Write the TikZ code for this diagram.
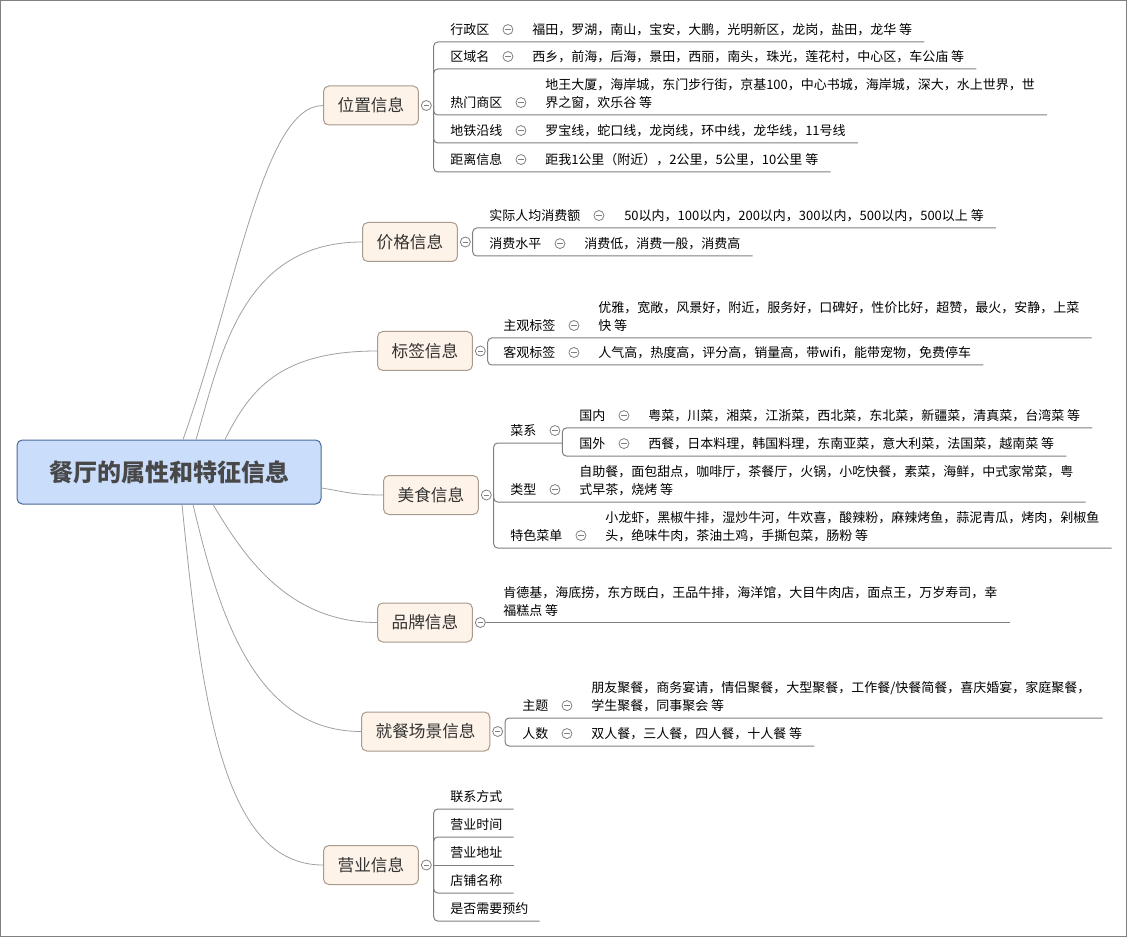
\documentclass[tikz,border=0pt]{standalone}
\usepackage{fontspec}
\setmainfont{Noto Sans CJK SC}
\usetikzlibrary{positioning,calc}

\definecolor{rootfill}{RGB}{202,221,251}
\definecolor{rootline}{RGB}{75,106,155}
\definecolor{roottext}{RGB}{72,72,72}
\definecolor{topicfill}{RGB}{254,243,232}
\definecolor{topicline}{RGB}{168,154,140}
\definecolor{linegray}{RGB}{128,128,128}
\definecolor{curvegray}{RGB}{160,160,160}

\tikzset{
  root/.style={draw=rootline, fill=rootfill, rounded corners=4pt, line width=0.75pt,
    minimum width=228pt, minimum height=48pt, text=roottext,
    font=\fontsize{18}{22}\selectfont\bfseries},
  topic/.style={draw=topicline, fill=topicfill, rounded corners=4pt, line width=0.75pt,
    minimum height=29.25pt, inner xsep=10.6pt, anchor=west, text=black!80,
    font=\fontsize{12.5}{15}\selectfont},
  fold/.style={circle, draw=linegray, fill=white, minimum size=7.5pt, inner sep=0pt,
    line width=0.6pt,
    path picture={\draw[linegray, line width=0.6pt]
      ([xshift=-2pt]path picture bounding box.center) -- ([xshift=2pt]path picture bounding box.center);}},
  lab/.style={inner sep=0pt, anchor=base west, font=\fontsize{9.75}{13.5}\selectfont},
  leaf/.style={lab, align=left},
  link/.style={draw=linegray, line width=0.75pt, rounded corners=3pt},
  branch/.style={draw=curvegray, line width=0.6pt}
}

\begin{document}
\begin{tikzpicture}[x=0.75pt, y=-0.75pt]
  \def\drop{7.5}  % underline below the baseline
  \def\tail{12}   % underline past the text
  \useasboundingbox (0,0) rectangle (1127,937);
  \draw[linegray, line width=0.75pt] (0.5,0.5) rectangle (1126,936);

  % centre and main topics
  \node[root] (root) at (169,472) {餐厅的属性和特征信息};
  \node[topic] (wz) at (323,105.5) {位置信息};
  \node[topic] (jg) at (362,242) {价格信息};
  \node[topic] (bq) at (377,351) {标签信息};
  \node[topic] (ms) at (383,495) {美食信息};
  \node[topic] (pp) at (377,622.5) {品牌信息};
  \node[topic] (jc) at (361,731.5) {就餐场景信息};
  \node[topic] (yy) at (323,865) {营业信息};
  \foreach \tp in {wz,jg,bq,ms,pp,jc,yy}
    \node[fold, right=1.5pt of \tp] (\tp-c) {};

  \draw[branch] ([xshift=10.5pt]root.north) .. controls +(54,-150) and +(-60,0) .. (wz.west);
  \draw[branch] ([xshift=20.25pt]root.north) .. controls +(24,-80) and +(-122,0) .. (jg.west);
  \draw[branch] ([xshift=42pt]root.north) .. controls +(25,-50) and +(-97,0) .. (bq.west);
  \draw[branch] ([yshift=-12pt]root.east) .. controls +(25,4) and +(-30,0) .. (ms.west);
  \draw[branch] ([xshift=33pt]root.south) .. controls +(30,50) and +(-90,0) .. (pp.west);
  \draw[branch] ([xshift=18pt]root.south) .. controls +(24,100) and +(-110,0) .. (jc.west);
  \draw[branch] ([xshift=9.75pt]root.south) .. controls +(20,200) and +(-100,0) .. (yy.west);

  % 位置信息 (a wrapped leaf sits on the base of its last line)
  \node[lab] (xzq) at (450,34.5) {行政区};
  \node[leaf] (xzq-v) at (532,34.5) {福田，罗湖，南山，宝安，大鹏，光明新区，龙岗，盐田，龙华 等};
  \node[lab] (qym) at (450,61.5) {区域名};
  \node[leaf] (qym-v) at (532,61.5) {西乡，前海，后海，景田，西丽，南头，珠光，莲花村，中心区，车公庙 等};
  \node[lab] (rmsq) at (450,107.5) {热门商区};
  \node[leaf] (rmsq-v) at (545,107.5) {地王大厦，海岸城，东门步行街，京基100，中心书城，海岸城，深大，水上世界，世\\界之窗，欢乐谷 等};
  \node[lab] (dtyx) at (450,135.5) {地铁沿线};
  \node[leaf] (dtyx-v) at (545,135.5) {罗宝线，蛇口线，龙岗线，环中线，龙华线，11号线};
  \node[lab] (jlxx) at (450,164.5) {距离信息};
  \node[leaf] (jlxx-v) at (545,164.5) {距我1公里（附近），2公里，5公里，10公里 等};
  \foreach \row in {xzq,qym,rmsq,dtyx,jlxx}{
    \node[fold, right=9.75pt of \row] (\row-c) {};
    \draw[link] ([xshift=1.5pt]wz-c.east) |- ($(\row-v.east |- \row.base)+(\tail,\drop)$);
  }

  % 价格信息
  \node[lab] (sjrj) at (489,220.5) {实际人均消费额};
  \node[leaf] (sjrj-v) at (624,220.5) {50以内，100以内，200以内，300以内，500以内，500以上 等};
  \node[lab] (xfsp) at (489,248.5) {消费水平};
  \node[leaf] (xfsp-v) at (584,248.5) {消费低，消费一般，消费高};
  \foreach \row in {sjrj,xfsp}{
    \node[fold, right=9.75pt of \row] (\row-c) {};
    \draw[link] ([xshift=1.5pt]jg-c.east) |- ($(\row-v.east |- \row.base)+(\tail,\drop)$);
  }

  % 标签信息
  \node[lab] (zgbq) at (503,330.5) {主观标签};
  \node[leaf] (zgbq-v) at (598,330.5) {优雅，宽敞，风景好，附近，服务好，口碑好，性价比好，超赞，最火，安静，上菜\\快 等};
  \node[lab] (kgbq) at (503,357.5) {客观标签};
  \node[leaf] (kgbq-v) at (598,357.5) {人气高，热度高，评分高，销量高，带wifi，能带宠物，免费停车};
  \foreach \row in {zgbq,kgbq}{
    \node[fold, right=9.75pt of \row] (\row-c) {};
    \draw[link] ([xshift=1.5pt]bq-c.east) |- ($(\row-v.east |- \row.base)+(\tail,\drop)$);
  }

  % 美食信息
  \node[lab] (cx) at (510,435.5) {菜系};
  \node[lab] (lx) at (510,494.5) {类型};
  \node[leaf] (lx-v) at (579,494.5) {自助餐，面包甜点，咖啡厅，茶餐厅，火锅，小吃快餐，素菜，海鲜，中式家常菜，粤\\式早茶，烧烤 等};
  \node[lab] (tscd) at (510,540.5) {特色菜单};
  \node[leaf] (tscd-v) at (605,540.5) {小龙虾，黑椒牛排，湿炒牛河，牛欢喜，酸辣粉，麻辣烤鱼，蒜泥青瓜，烤肉，剁椒鱼\\头，绝味牛肉，茶油土鸡，手撕包菜，肠粉 等};
  \foreach \row in {cx,lx,tscd}
    \node[fold, right=9.75pt of \row] (\row-c) {};
  \coordinate (cx-j) at ($(cx-c.east |- cx.base)+(2,\drop)$);
  \draw[link] ([xshift=1.5pt]ms-c.east) |- (cx-j);
  \foreach \row in {lx,tscd}
    \draw[link] ([xshift=1.5pt]ms-c.east) |- ($(\row-v.east |- \row.base)+(\tail,\drop)$);
  \node[lab] (gn) at (579,420.5) {国内};
  \node[leaf] (gn-v) at (648,420.5) {粤菜，川菜，湘菜，江浙菜，西北菜，东北菜，新疆菜，清真菜，台湾菜 等};
  \node[lab] (gw) at (579,448.5) {国外};
  \node[leaf] (gw-v) at (648,448.5) {西餐，日本料理，韩国料理，东南亚菜，意大利菜，法国菜，越南菜 等};
  \foreach \row in {gn,gw}{
    \node[fold, right=9.75pt of \row] (\row-c) {};
    \draw[link] (cx-j) |- ($(\row-v.east |- \row.base)+(\tail,\drop)$);
  }

  % 品牌信息
  \node[leaf] (pp-v) at (503,615.5) {肯德基，海底捞，东方既白，王品牛排，海洋馆，大目牛肉店，面点王，万岁寿司，幸\\福糕点 等};
  \draw[link] (pp-c.east) -- ($(pp-c.east -| pp-v.east)+(\tail,0)$);

  % 就餐场景信息
  \node[lab] (zt) at (522,710.5) {主题};
  \node[leaf] (zt-v) at (591,710.5) {朋友聚餐，商务宴请，情侣聚餐，大型聚餐，工作餐/快餐简餐，喜庆婚宴，家庭聚餐，\\学生聚餐，同事聚会 等};
  \node[lab] (rs) at (522,738.5) {人数};
  \node[leaf] (rs-v) at (591,738.5) {双人餐，三人餐，四人餐，十人餐 等};
  \foreach \row in {zt,rs}{
    \node[fold, right=9.75pt of \row] (\row-c) {};
    \draw[link] ([xshift=1.5pt]jc-c.east) |- ($(\row-v.east |- \row.base)+(\tail,\drop)$);
  }

  % 营业信息
  \node[lab] (lxfs) at (450,801.5) {联系方式};
  \node[lab] (yysj) at (450,829.5) {营业时间};
  \node[lab] (yydz) at (450,857.5) {营业地址};
  \node[lab] (dpmc) at (450,885.5) {店铺名称};
  \node[lab] (sfyy) at (450,913.5) {是否需要预约};
  \foreach \row in {lxfs,yysj,dpmc,sfyy}
    \draw[link] ([xshift=1.5pt]yy-c.east) |- ($(\row.base east)+(11,\drop)$);
  \draw[link] ([xshift=1.5pt]yy-c.east) -- ($(yydz.base east)+(11,\drop)$);
\end{tikzpicture}
\end{document}
